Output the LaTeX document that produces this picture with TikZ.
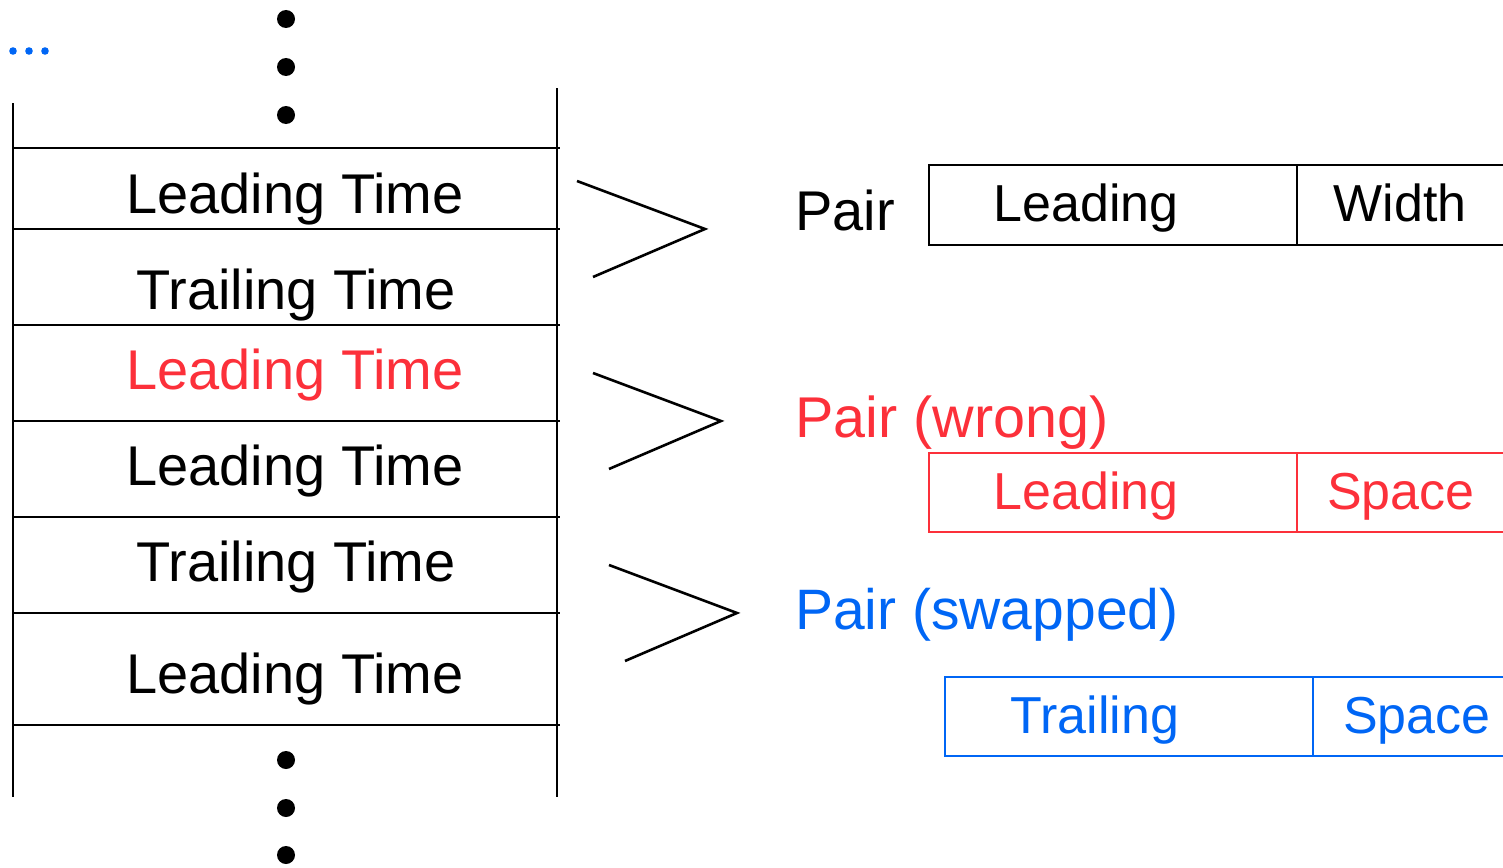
\documentclass[tikz,border=0pt]{standalone}
\usepackage{fontspec}
\setmainfont{Liberation Sans}
\definecolor{wrongred}{RGB}{252,48,58}
\definecolor{swapblue}{RGB}{0,102,245}
\begin{document}
\begin{tikzpicture}[x=1pt,y=-1pt,
  stackline/.style={line width=2.4pt},
  chev/.style={line width=2.6pt},
  fieldbox/.style={line width=2pt},
  big/.style={inner sep=0pt,anchor=base,font=\fontsize{56}{60}\selectfont},
  field/.style={inner sep=0pt,anchor=base,font=\fontsize{52}{56}\selectfont},
  lbl/.style={big,anchor=base west},
  dot/.style={fill=black}]
\useasboundingbox (0,0) rectangle (1503,867);

% blue ellipsis in the corner
\foreach \x in {13,29,45}
  \fill[swapblue] (\x,51) circle[radius=3.8pt];

% memory stack: side walls and row separators
\draw[stackline] (13,103) -- (13,797);
\draw[stackline] (557,88) -- (557,797);
\foreach \y in {148,229,325,421,517,613,725}
  \draw[stackline] (14,\y) -- (560,\y);

% continuation dots above and below
\foreach \y in {19,67,115,760,808,855}
  \fill[dot] (286,\y) circle[radius=9pt];

% stack entries
\node[big] (r1) at (295,213) {Leading Time};
\node[big] (r2) at (296,309) {Trailing Time};
\node[big,text=wrongred] (r3) at (295,389) {Leading Time};
\node[big] (r4) at (295,485) {Leading Time};
\node[big] (r5) at (296,581) {Trailing Time};
\node[big] (r6) at (295,693) {Leading Time};

% grouping chevrons
\draw[chev] (577,181) -- (705,229) -- (593,277);
\draw[chev] (593,373) -- (721,421) -- (609,469);
\draw[chev] (609,565) -- (737,613) -- (625,661);

% pair labels
\node[lbl] (p1) at (795,230) {Pair};
\node[lbl,text=wrongred,font=\fontsize{57.5}{60}\selectfont] (p2) at (795,437) {Pair (wrong)};
\node[lbl,text=swapblue,font=\fontsize{57}{60}\selectfont] (p3) at (795,629) {Pair (swapped)};

% pair records
\draw[fieldbox] (929,165) rectangle (1530,245);
\draw[fieldbox] (1297,165) -- (1297,245);
\node[field] (b1a) at (1086,221) {Leading};
\node[field] (b1b) at (1400,221) {Width};

\draw[fieldbox,wrongred] (929,453) rectangle (1530,532);
\draw[fieldbox,wrongred] (1297,453) -- (1297,532);
\node[field,text=wrongred] (b2a) at (1086,509) {Leading};
\node[field,text=wrongred] (b2b) at (1401,509) {Space};

\draw[fieldbox,swapblue] (945,677) rectangle (1530,756);
\draw[fieldbox,swapblue] (1313,677) -- (1313,756);
\node[field,text=swapblue] (b3a) at (1095,733) {Trailing};
\node[field,text=swapblue] (b3b) at (1417,733) {Space};
\end{tikzpicture}
\end{document}
